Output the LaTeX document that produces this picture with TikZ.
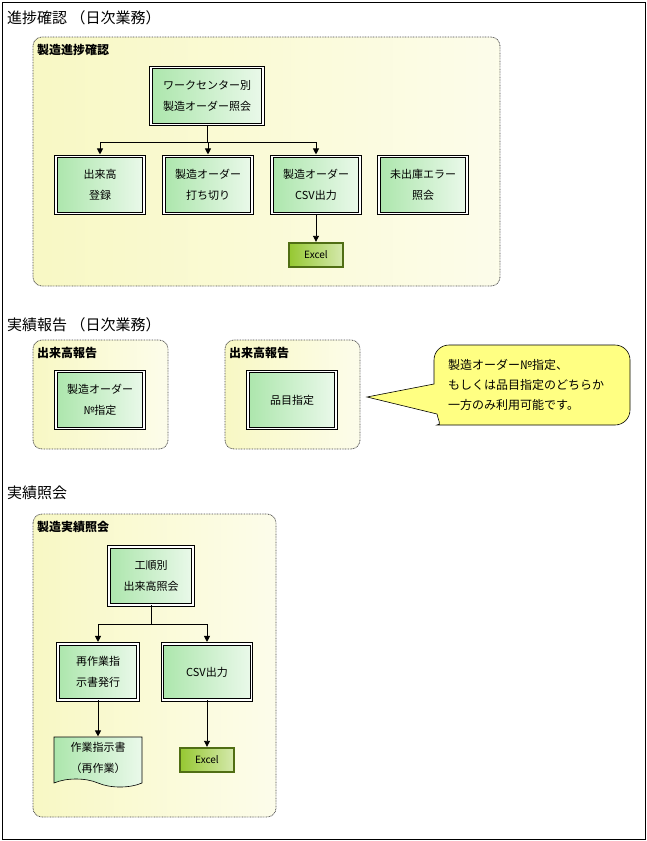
\documentclass[tikz,border=0pt]{standalone}
\usepackage{fontspec}
\setmainfont{Noto Sans CJK JP}
\usetikzlibrary{arrows.meta,shapes.symbols}
\definecolor{bxgreen}{RGB}{172,230,172}
\definecolor{grpyel}{RGB}{248,248,196}
\definecolor{xlgreen}{RGB}{150,200,50}
\definecolor{xlline}{RGB}{80,110,20}
\definecolor{noteyel}{RGB}{255,255,130}

\begin{document}
\begin{tikzpicture}[x=1pt, y=-1pt,
    ttl/.style={anchor=west, inner sep=0pt, font=\fontsize{15}{17}\selectfont},
    grp/.style={draw=gray!60!black, dash pattern=on 0.8pt off 0.8pt, line width=0.8pt,
                rounded corners=9pt, left color=grpyel, right color=grpyel!35!white},
    glbl/.style={anchor=west, inner sep=0pt, font=\fontsize{12}{14}\selectfont\bfseries},
    bx/.style={draw, line width=0.9pt, double=white, double distance=1.4pt,
               left color=bxgreen, right color=bxgreen!25!white, align=center,
               minimum width=88pt, minimum height=57pt, inner sep=0pt,
               font=\fontsize{11}{21}\selectfont},
    xl/.style={draw=xlline, line width=1.2pt, left color=xlgreen, right color=xlgreen!40!white,
               minimum width=54pt, minimum height=24pt, inner sep=0pt,
               font=\fontsize{10}{12}\selectfont},
    dc/.style={draw, line width=0.6pt, tape, tape bend top=none, tape bend bottom=out and in,
               tape bend height=8pt, left color=bxgreen, right color=bxgreen!25!white,
               align=center, minimum width=88pt, minimum height=50pt, inner sep=0pt,
               font=\fontsize{11}{21}\selectfont},
    ln/.style={line width=0.9pt},
    ar/.style={line width=0.9pt, -{Triangle[length=6pt,width=6pt]}, shorten >=1.6pt}
  ]
  \useasboundingbox (0,0) rectangle (647,841);
  \draw[line width=0.8pt] (2,2) rectangle (645,839);

  \node[ttl] (t1) at (7,18)  {進捗確認 （日次業務）};
  \node[ttl] (t2) at (7,325) {実績報告 （日次業務）};
  \node[ttl] (t3) at (7,493) {実績照会};

  \draw[grp] (33,37) rectangle (500,286);
  \node[glbl] (g1) at (37,50) {製造進捗確認};
  \node[bx, minimum width=112pt] (wc) at (207,96) {ワークセンター別\\製造オーダー照会};
  \node[bx] (reg)  at (100,185) {出来高\\登録};
  \node[bx] (uchi) at (208,185) {製造オーダー\\打ち切り};
  \node[bx] (csv)  at (316,185) {製造オーダー\\CSV出力};
  \node[bx] (err)  at (423,185) {未出庫エラー\\照会};
  \node[xl] (xl1)  at (316,255) {Excel};
  \coordinate (j1) at (207,142);
  \draw[ln] (wc) -- (j1);
  \draw[ar] (j1) -| (reg);
  \draw[ar] (j1) -| (uchi);
  \draw[ar] (j1) -| (csv);
  \draw[ar, shorten >=0.6pt] (csv) -- (xl1);

  \draw[grp] (33,340) rectangle (168,449);
  \node[glbl] (g2) at (37,353) {出来高報告};
  \node[bx] (ordno) at (100,400) {製造オーダー\\№指定};
  \draw[grp] (225,340) rectangle (360,449);
  \node[glbl] (g3) at (229,353) {出来高報告};
  \node[bx] (hin) at (292,400) {品目指定};
  \draw[line width=0.6pt, fill=noteyel] (367,397) -- (434,384) [rounded corners=15pt]
    -- (434,345) -- (630,345) -- (630,425) -- (452,425) [sharp corners]
    .. controls (442,425) and (438,420) .. (437,414) -- cycle;
  \node[anchor=west, align=left, inner sep=0pt, font=\fontsize{12}{20}\selectfont]
    (note) at (448,385) {製造オーダー№指定、\\もしくは品目指定のどちらか\\一方のみ利用可能です。};

  \draw[grp] (33,514) rectangle (276,817);
  \node[glbl] (g4) at (37,527) {製造実績照会};
  \node[bx, minimum width=84pt, minimum height=58pt] (kojun) at (151,576) {工順別\\出来高照会};
  \node[bx, minimum width=80pt, minimum height=56pt] (saisa) at (98,672) {再作業指\\示書発行};
  \node[bx, minimum width=89pt, minimum height=56pt] (csv2) at (207,672) {CSV出力};
  \node[dc] (doc) at (98,758) {作業指示書\\（再作業）};
  \node[xl] (xl2) at (207,760) {Excel};
  \coordinate (j2) at (151,624);
  \draw[ln] (kojun) -- (j2);
  \draw[ar] (j2) -| (saisa);
  \draw[ar] (j2) -| (csv2);
  \draw[ar, shorten >=0.3pt] (saisa) -- (doc);
  \draw[ar, shorten >=0.6pt] (csv2) -- (xl2);
\end{tikzpicture}
\end{document}
